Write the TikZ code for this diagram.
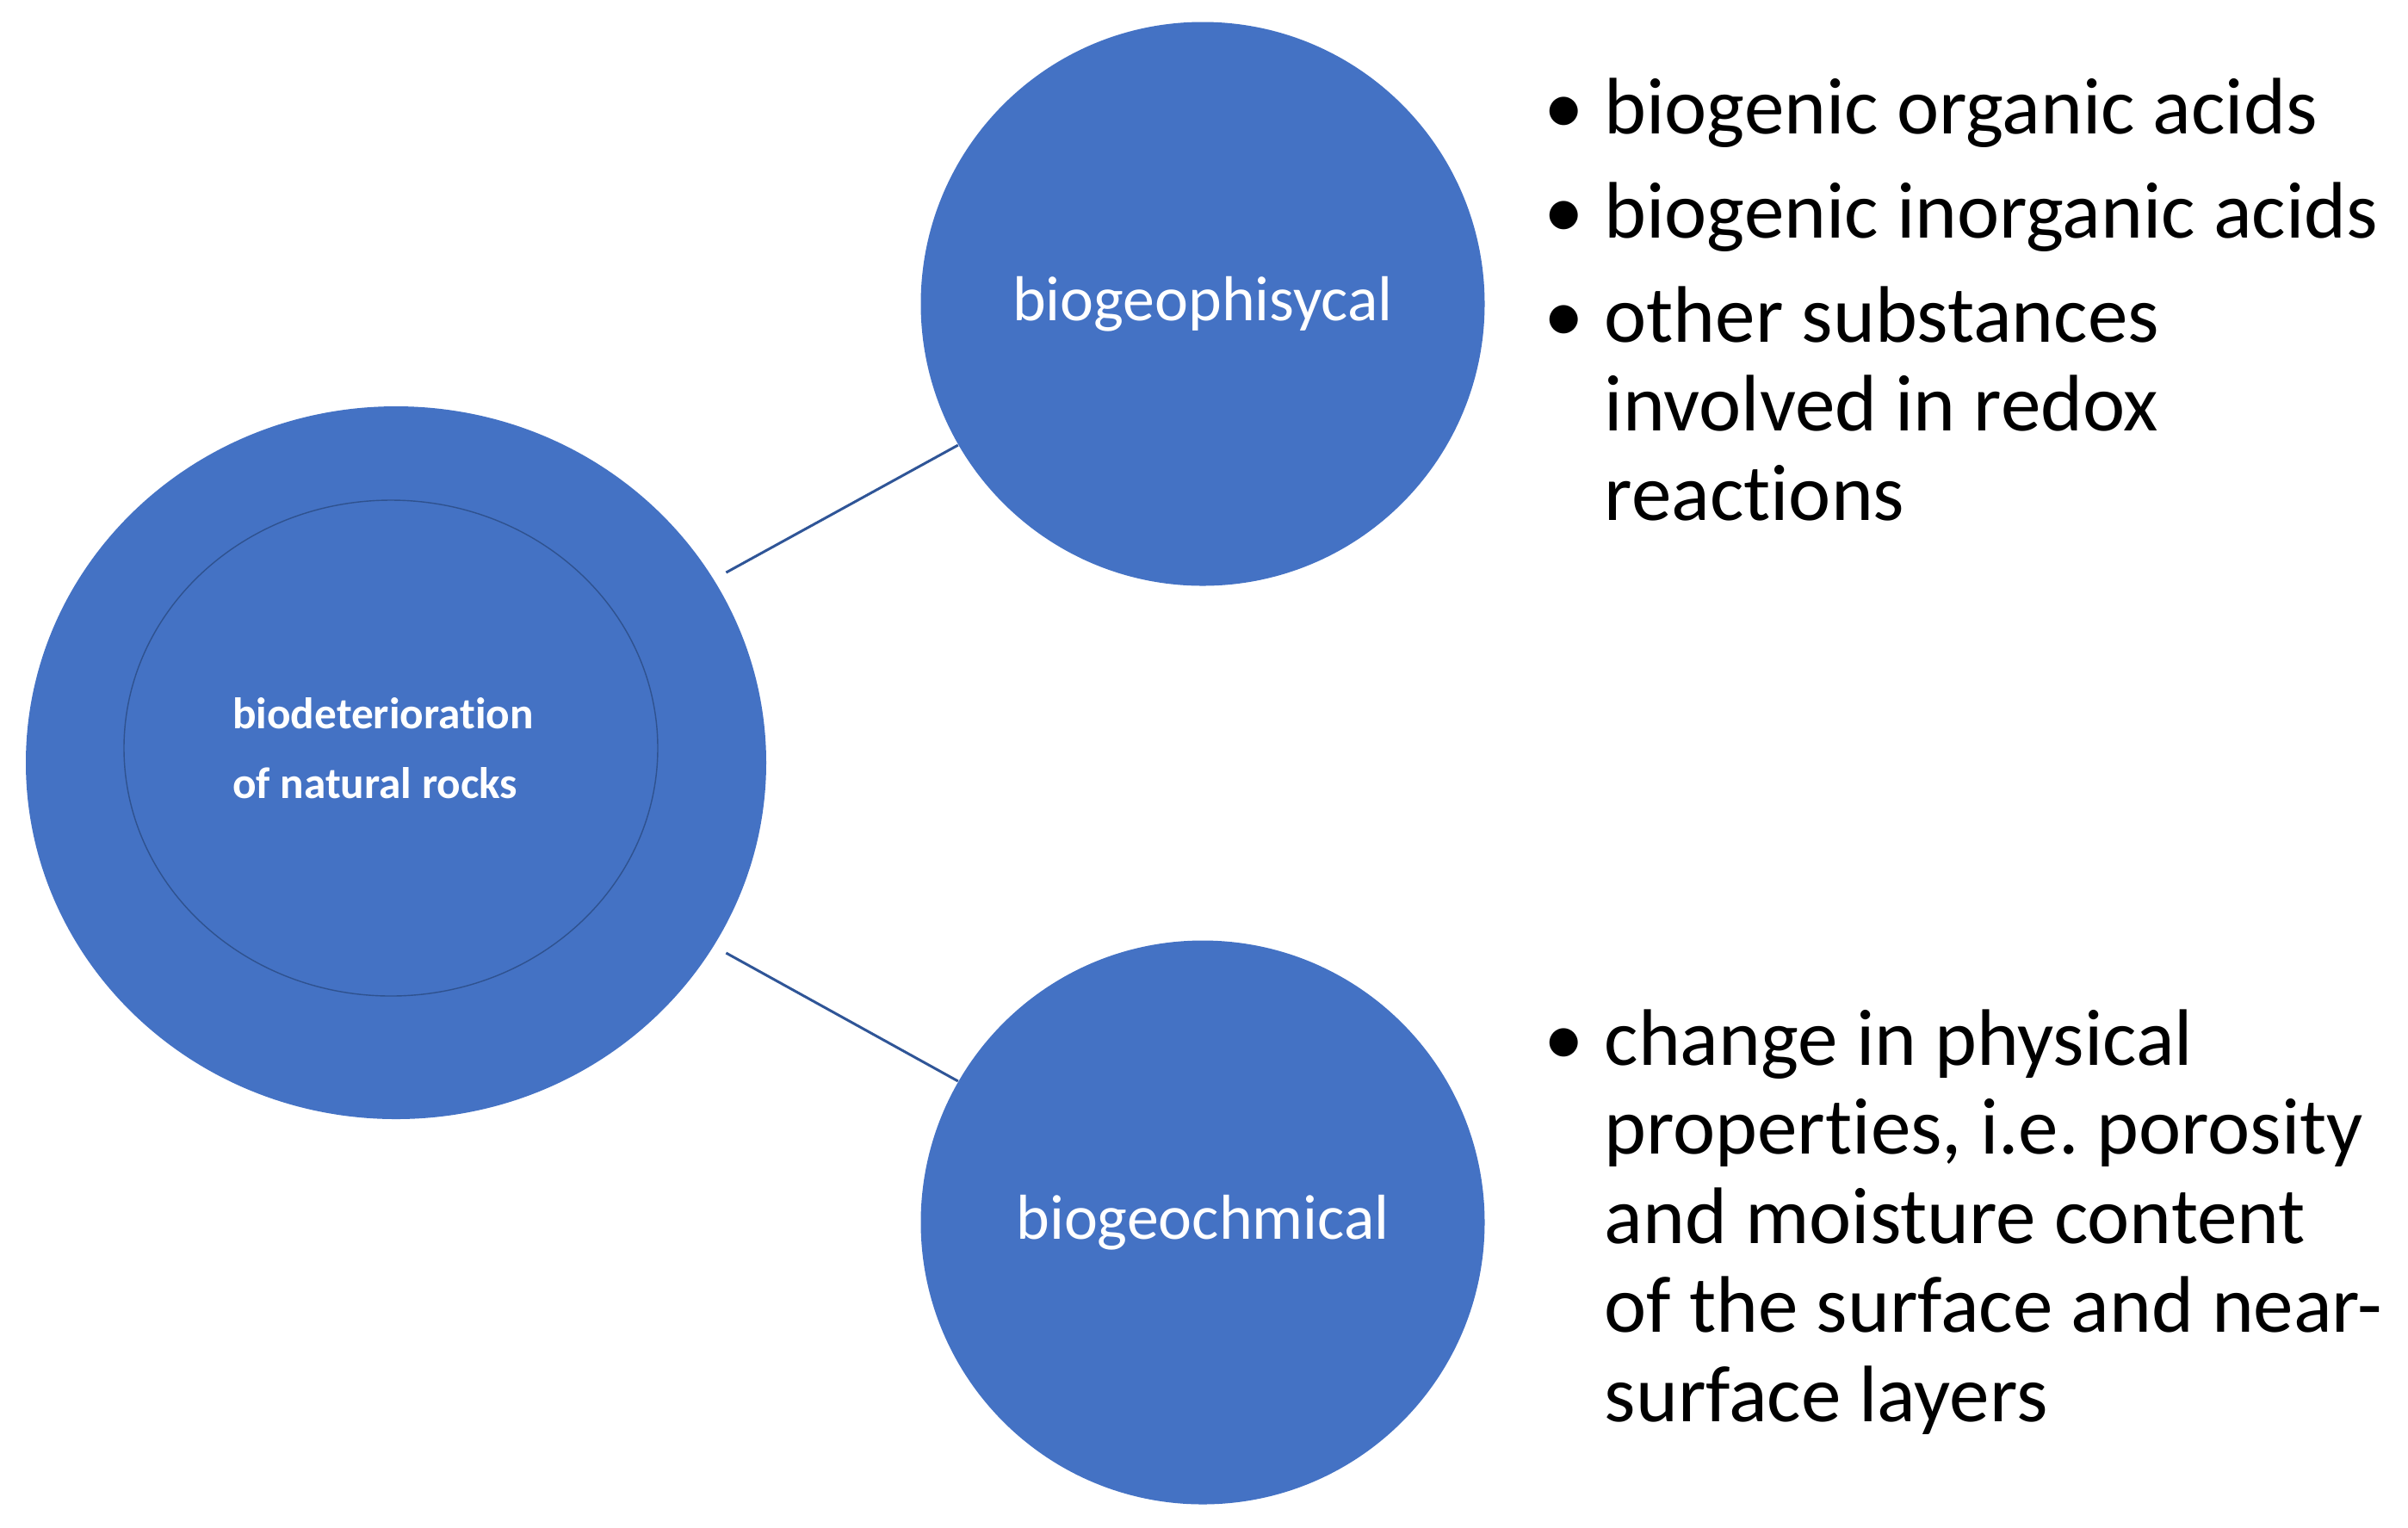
\documentclass[tikz,border=0pt]{standalone}
\usepackage{fontspec}
\setmainfont{Carlito}[Ligatures=NoCommon]
\usepackage{xcolor}
\usetikzlibrary{shapes.geometric, positioning}
\definecolor{bblue}{HTML}{4472C4}
\definecolor{lblue}{HTML}{2F5597}
\definecolor{rim}{HTML}{2F528F}
\frenchspacing
\newcommand{\blt}[1]{\par\noindent\hangindent=0.7cm\hangafter=1\makebox[0.7cm][l]{•}#1}

\begin{document}
\begin{tikzpicture}[
  bub/.style={circle, fill=bblue, minimum size=6.55cm, inner sep=0, text=white,
    font=\fontsize{21pt}{24pt}\selectfont},
  lst/.style={anchor=base west, inner sep=0, font=\fontsize{26.5pt}{29.45pt}\selectfont},
  con/.style={draw=lblue, line width=0.85pt, shorten <=0.16cm}]
  \useasboundingbox (0,0) rectangle (27.97,-17.74);

  % central topic
  \node[ellipse, fill=bblue, minimum width=8.6cm, minimum height=8.28cm, inner sep=0] (rock) at (4.60,-8.86) {};
  \node[ellipse, draw=rim, line width=0.4pt, minimum width=6.2cm, minimum height=5.76cm, inner sep=0] (core) at (4.54,-8.69) {};
  \node[text=white, align=left, inner sep=0, font=\bfseries\fontsize{14.6pt}{23pt}\selectfont]
    (title) at ([xshift=-0.09cm]core.center) {biodeterioration\\of natural rocks};

  % branches
  \node[bub] (phys) at (13.97,-3.53) {biogeophisycal};
  \node[bub] (chem) at (13.97,-14.20) {biogeochmical};
  \draw[con] (rock.30) -- (phys.210);
  \draw[con] (rock.-30) -- (chem.150);

  % lists
  \node[lst] (acids) at (17.93,-1.55) {\parbox[t]{10cm}{\setlength{\parskip}{0.175cm}%
    \blt{biogenic organic acids}\blt{biogenic inorganic acids}%
    \blt{other substances\newline involved in redox\newline reactions}}};
  \node[lst] (layers) at (17.93,-12.37) {\parbox[t]{10cm}{%
    \blt{change in physical\newline properties, i.e. porosity\newline and moisture content\newline
      of the surface and near-\newline surface layers}}};
\end{tikzpicture}
\end{document}
